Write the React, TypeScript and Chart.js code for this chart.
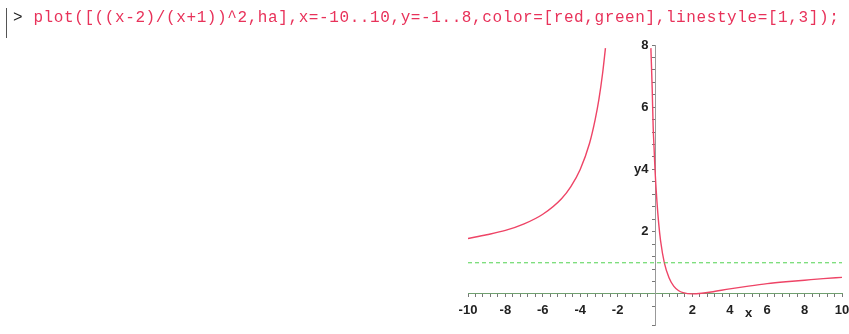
import React, { useEffect, useRef } from "react";
import { Chart, registerables } from "chart.js";

Chart.register(...registerables);

const leftX = [-10, -9, -8, -7, -6, -5, -4.5, -4, -3.5, -3.2, -3, -2.8, -2.65];
const leftY = [1.78, 1.9, 2.04, 2.25, 2.56, 3.06, 3.45, 4.0, 4.84, 5.6, 6.25, 7.1, 7.9];
const rightX = [-0.22, -0.15, -0.1, -0.05, 0, 0.1, 0.2, 0.3, 0.5, 0.75, 1, 1.25, 1.5, 2, 2.5, 3, 4, 5, 6, 7, 8, 9, 10];
const rightY = [7.9, 6.6, 5.4, 4.7, 4.0, 3.0, 2.25, 1.7, 1.0, 0.52, 0.25, 0.11, 0.04, 0, 0.02, 0.06, 0.16, 0.25, 0.33, 0.39, 0.44, 0.49, 0.53];
const haX = [-10, 10];
const haY = [1, 1];
const xLabelTicks = [-10, -8, -6, -4, -2, 2, 4, 6, 8, 10];
const yLabelTicks = [2, 4, 6, 8];
const commandText = "plot([((x-2)/(x+1))^2,ha],x=-10..10,y=-1..8,color=[red,green],linestyle=[1,3]);";

const pts = (xs: number[], ys: number[]) => xs.map((x, i) => ({ x, y: ys[i] }));
const near = (v: number, list: number[]) => list.find((t) => Math.abs(t - v) < 1e-6);

const tickFont = { family: "'Liberation Sans', Arial, sans-serif", size: 13, weight: "bold" as const };

const zeroPadding = (s: any) => {
  s.paddingLeft = 0;
  s.paddingRight = 0;
  s.paddingTop = 0;
  s.paddingBottom = 0;
};

const axisNamePlugin = {
  id: "axisNames",
  afterDraw(chart: any) {
    const { ctx, scales } = chart;
    const x = scales.x.getPixelForValue(5);
    const y = scales.y.getPixelForValue(0);
    ctx.save();
    ctx.font = "bold 13px 'Liberation Sans', Arial, sans-serif";
    ctx.fillStyle = "#222";
    ctx.textAlign = "center";
    ctx.textBaseline = "middle";
    ctx.fillText("x", x, y + 20);
    ctx.restore();
  },
};

export default function App() {
  const ref = useRef<HTMLCanvasElement>(null);
  useEffect(() => {
    if (!ref.current) return;
    const chart = new Chart(ref.current, {
      type: "scatter",
      data: {
        datasets: [
          {
            data: pts(haX, haY),
            showLine: true,
            borderColor: "#4fd24f",
            borderWidth: 1,
            borderDash: [4, 3],
            pointRadius: 0,
          },
          {
            data: pts(leftX, leftY),
            showLine: true,
            borderColor: "#ee4466",
            borderWidth: 1.4,
            pointRadius: 0,
            cubicInterpolationMode: "monotone",
          },
          {
            data: pts(rightX, rightY),
            showLine: true,
            borderColor: "#ee4466",
            borderWidth: 1.4,
            pointRadius: 0,
            cubicInterpolationMode: "monotone",
          },
        ],
      },
      options: {
        animation: false,
        responsive: false,
        maintainAspectRatio: false,
        layout: { padding: { left: 468, right: 7, top: 45, bottom: 9 } },
        plugins: { legend: { display: false }, tooltip: { enabled: false } },
        scales: {
          x: {
            type: "linear",
            min: -10,
            max: 10,
            position: { y: 0 } as any,
            afterFit: zeroPadding,
            border: { display: true, color: "#6f9f6f", width: 1 },
            grid: { drawOnChartArea: false, drawTicks: true, tickLength: 3, color: "#777" },
            ticks: {
              stepSize: 0.4,
              autoSkip: false,
              maxRotation: 0,
              padding: 6,
              color: "#222",
              font: tickFont,
              callback: (v: any) => {
                const t = near(Number(v), xLabelTicks);
                return t === undefined ? "" : String(t);
              },
            },
          },
          y: {
            type: "linear",
            min: -1,
            max: 8,
            position: { x: 0 } as any,
            afterFit: zeroPadding,
            border: { display: true, color: "#999", width: 1 },
            grid: { drawOnChartArea: false, drawTicks: true, tickLength: 3, color: "#777" },
            ticks: {
              stepSize: 0.4,
              autoSkip: false,
              color: "#222",
              font: tickFont,
              callback: (v: any) => {
                const t = near(Number(v), yLabelTicks);
                if (t === undefined) return "";
                return (t === 4 ? "y4" : String(t)) + "\u2002";
              },
            },
          },
        },
      },
      plugins: [axisNamePlugin],
    });
    return () => chart.destroy();
  }, []);

  return (
    <div style={{ position: "fixed", left: 0, top: 0, width: 849, height: 334, background: "#fff", overflow: "hidden" }}>
      <canvas ref={ref} width={849} height={334} style={{ position: "absolute", left: 0, top: 0 }} />
      <div style={{ position: "absolute", left: 6, top: 8, width: 0, height: 30, borderLeft: "1px solid #555" }} />
      <div
        style={{
          position: "absolute",
          left: 13,
          top: 8,
          whiteSpace: "pre",
          fontFamily: "'Liberation Mono', 'DejaVu Sans Mono', monospace",
          fontSize: 16,
          letterSpacing: 0.6,
          lineHeight: "20px",
        }}
      >
        <span style={{ color: "#222" }}>{"> "}</span>
        <span style={{ color: "#e8325a" }}>{commandText}</span>
      </div>
    </div>
  );
}
